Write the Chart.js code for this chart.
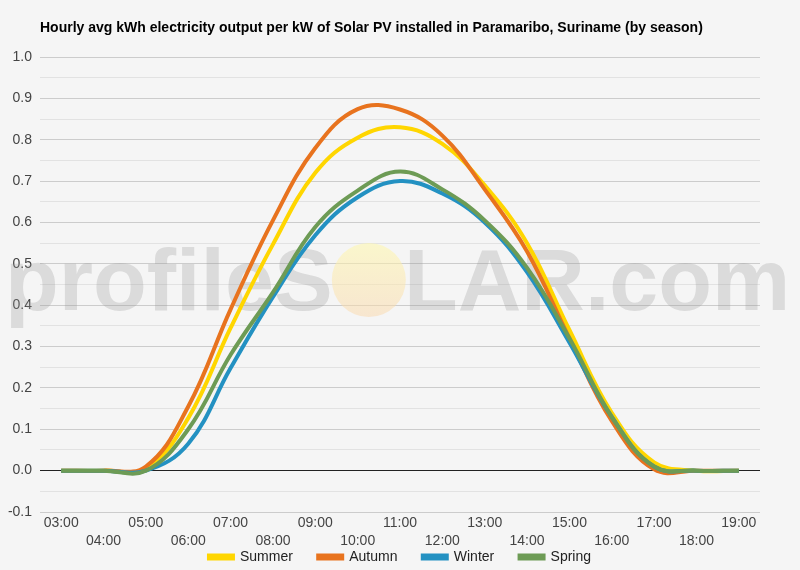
<!DOCTYPE html>
<html>
<head>
<meta charset="utf-8">
<script src="https://cdn.jsdelivr.net/npm/chart.js@4.4.1/dist/chart.umd.min.js"></script>
<style>
  html, body { margin: 0; padding: 0; background: #f5f5f5; }
  #wrap { width: 800px; height: 570px; }
</style>
</head>
<body>
<div id="wrap"><canvas id="myChart" width="800" height="570"></canvas></div>
<script>
const hours = ['03:00', '04:00', '05:00', '06:00', '07:00', '08:00', '09:00', '10:00', '11:00',
  '12:00', '13:00', '14:00', '15:00', '16:00', '17:00', '18:00', '19:00'];

const summer = [0, 0, 0.005, 0.127, 0.345, 0.547, 0.72, 0.805, 0.83, 0.79, 0.69, 0.55, 0.34, 0.14, 0.02, 0, 0];
const autumn = [0, 0, 0.01, 0.155, 0.39, 0.605, 0.78, 0.874, 0.873, 0.81, 0.68, 0.53, 0.32, 0.12, 0.003, 0, 0];
const winter = [0, 0, 0, 0.065, 0.248, 0.42, 0.569, 0.661, 0.70, 0.67, 0.60, 0.48, 0.31, 0.13, 0.01, 0, 0];
const spring = [0, 0, 0, 0.10, 0.28, 0.431, 0.589, 0.677, 0.723, 0.68, 0.605, 0.49, 0.32, 0.13, 0.01, 0, 0];

const yTicks = ['-0.1', '0.0', '0.1', '0.2', '0.3', '0.4', '0.5', '0.6', '0.7', '0.8', '0.9', '1.0'];

const titleText = 'Hourly avg kWh electricity output per kW of Solar PV installed in Paramaribo, Suriname (by season)';

// background + title
const bgPlugin = {
  id: 'bg',
  beforeDraw(chart) {
    const c = chart.ctx;
    c.save();
    c.fillStyle = '#f5f5f5';
    c.fillRect(0, 0, chart.width, chart.height);
    c.restore();
  },
  afterDraw(chart) {
    const c = chart.ctx;
    c.save();
    c.fillStyle = '#000';
    c.font = 'bold 14px Arial, "Liberation Sans", sans-serif';
    c.textBaseline = 'middle';
    c.fillText(titleText, chart.chartArea.left, 28);
    c.restore();
  }
};

// profileSOLAR.com watermark
const watermark = {
  id: 'watermark',
  beforeDatasetsDraw(chart) {
    const c = chart.ctx;
    c.save();
    c.font = 'bold 88px Arial, "Liberation Sans", sans-serif';
    c.textBaseline = 'alphabetic';
    c.fillStyle = 'rgba(150,150,150,0.28)';
    c.fillText('profileS', 5, 310);
    const w1 = c.measureText('profileS').width;
    const wO = c.measureText('O').width;
    c.fillText('LAR.com', 5 + w1 + wO + 3, 310);
    const cx = 5 + w1 + wO / 2 + 2;
    const g = c.createLinearGradient(0, 243, 0, 317);
    g.addColorStop(0, 'rgba(255,248,170,0.55)');
    g.addColorStop(1, 'rgba(250,215,170,0.5)');
    c.beginPath();
    c.arc(cx, 280, 37, 0, Math.PI * 2);
    c.fillStyle = g;
    c.fill();
    c.restore();
  }
};

const ctx = document.getElementById('myChart').getContext('2d');
const series = [
  { label: 'Summer', data: summer, color: '#ffd600', order: 3 },
  { label: 'Autumn', data: autumn, color: '#e8731e', order: 2 },
  { label: 'Winter', data: winter, color: '#2391c2', order: 1 },
  { label: 'Spring', data: spring, color: '#6d9b55', order: 0 }
];

const myChart = new Chart(ctx, {
  type: 'line',
  data: {
    labels: hours,
    datasets: series.map(s => ({
      label: s.label,
      data: s.data,
      borderColor: s.color,
      backgroundColor: s.color,
      borderWidth: 4,
      pointRadius: 0,
      tension: 0.4,
      fill: false,
      order: s.order
    }))
  },
  options: {
    responsive: false,
    animation: false,
    layout: { padding: { top: 57, right: 0, left: 0, bottom: -4 } },
    plugins: {
      tooltip: { enabled: false },
      legend: {
        position: 'bottom',
        labels: {
          boxWidth: 24,
          boxHeight: 3,
          padding: 2,
          color: '#222',
          font: { size: 14, family: 'Arial, "Liberation Sans", sans-serif' },
          sort: (a, b) => a.datasetIndex - b.datasetIndex,
          // padding is tiny (to keep the legend low), so space the items with trailing blanks
          generateLabels: (chart) => {
            const items = Chart.defaults.plugins.legend.labels.generateLabels(chart);
            items.forEach(it => {
              if (it.datasetIndex < series.length - 1) it.text = it.text + '      ';
            });
            return items;
          }
        }
      }
    },
    scales: {
      x: {
        offset: true,
        afterFit: (axis) => { axis.height = 36; },
        grid: { display: false, drawTicks: false },
        border: { display: false },
        ticks: {
          autoSkip: false,
          maxRotation: 0,
          padding: 2,
          color: '#444',
          font: { size: 14, family: 'Arial, "Liberation Sans", sans-serif', lineHeight: 1.3 },
          callback: function (v, i) {
            const lab = hours[i];
            return i % 2 === 0 ? lab : ['', lab];
          }
        }
      },
      y: {
        min: -0.1,
        max: 1.0,
        border: { display: false },
        afterFit: (axis) => { axis.width = 40; },
        grid: {
          drawTicks: false,
          color: (c) => {
            const k = Math.round(c.tick.value * 100);
            if (k === 0) return '#222';
            return k % 10 === 0 ? '#cccccc' : '#e2e2e2';
          }
        },
        ticks: {
          stepSize: 0.05,
          padding: 8,
          color: '#444',
          font: { size: 14, family: 'Arial, "Liberation Sans", sans-serif' },
          callback: (v) => {
            const k = Math.round(v * 100);
            if (k % 10 !== 0) return '';
            return yTicks[k / 10 + 1];
          }
        }
      },
      // empty right-hand axis, only to keep a 40px margin so the legend stays centred on the page
      yRight: {
        position: 'right',
        min: -0.1,
        max: 1.0,
        grid: { display: false, drawTicks: false },
        border: { display: false },
        ticks: { display: false },
        afterFit: (axis) => { axis.width = 40; }
      }
    }
  },
  plugins: [bgPlugin, watermark]
});
</script>
</body>
</html>
